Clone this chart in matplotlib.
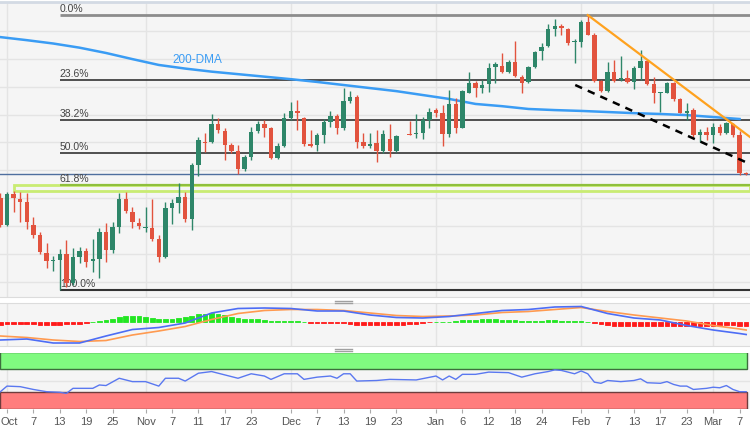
import numpy as np
import pandas as pd
import matplotlib
matplotlib.use("Agg")
import matplotlib.pyplot as plt
from matplotlib.patches import Rectangle
from matplotlib.lines import Line2D
from matplotlib.transforms import ScaledTranslation

plt.rcParams["font.family"] = ["Liberation Sans", "DejaVu Sans"]

# AUD/USD daily candles, 30 Sep 2022 -> 8 Mar 2023
dates = pd.bdate_range("2022-09-30", "2023-03-08")

opens = [0.6500, 0.6404, 0.6515, 0.6497, 0.6486, 0.6404, 0.6368, 0.6303, 0.6274, 0.6278,
         0.6299, 0.6195, 0.6289, 0.6310, 0.6274, 0.6281, 0.6378, 0.6314, 0.6396, 0.6497,
         0.6450, 0.6411, 0.6393, 0.6393, 0.6353, 0.6289, 0.6465, 0.6482, 0.6504, 0.6425,
         0.6619, 0.6701, 0.6701, 0.6766, 0.6741, 0.6691, 0.6669, 0.6605, 0.6648, 0.6741,
         0.6766, 0.6752, 0.6644, 0.6687, 0.6788, 0.6813, 0.6788, 0.6694, 0.6691, 0.6727,
         0.6773, 0.6795, 0.6752, 0.6849, 0.6863, 0.6701, 0.6687, 0.6698, 0.6669, 0.6712,
         0.6669, 0.6712, 0.6730, 0.6730, 0.6734, 0.6780, 0.6816, 0.6805, 0.6730, 0.6838,
         0.6752, 0.6877, 0.6913, 0.6895, 0.6910, 0.6971, 0.6974, 0.6953, 0.6989, 0.6935,
         0.6917, 0.6971, 0.7028, 0.7046, 0.7107, 0.7118, 0.7107, 0.7060, 0.7060, 0.7132,
         0.7085, 0.6920, 0.6884, 0.6953, 0.6924, 0.6931, 0.6917, 0.6967, 0.6992, 0.6910,
         0.6877, 0.6877, 0.6913, 0.6856, 0.6805, 0.6816, 0.6727, 0.6737, 0.6727, 0.6755,
         0.6734, 0.6766, 0.6727, 0.6590]
highs = [0.6518, 0.6522, 0.6526, 0.6522, 0.6518, 0.6432, 0.6378, 0.6339, 0.6292, 0.6317,
         0.6350, 0.6321, 0.6325, 0.6321, 0.6353, 0.6393, 0.6411, 0.6414, 0.6518, 0.6522,
         0.6468, 0.6429, 0.6468, 0.6497, 0.6368, 0.6486, 0.6497, 0.6554, 0.6522, 0.6626,
         0.6719, 0.6734, 0.6802, 0.6788, 0.6752, 0.6698, 0.6691, 0.6655, 0.6755, 0.6777,
         0.6780, 0.6755, 0.6698, 0.6805, 0.6845, 0.6852, 0.6791, 0.6744, 0.6734, 0.6784,
         0.6813, 0.6802, 0.6895, 0.6884, 0.6870, 0.6734, 0.6734, 0.6744, 0.6744, 0.6766,
         0.6727, 0.6712, 0.6777, 0.6802, 0.6791, 0.6823, 0.6823, 0.6834, 0.6888, 0.6859,
         0.6888, 0.6953, 0.6920, 0.6924, 0.6985, 0.6989, 0.7021, 0.6996, 0.7064, 0.6942,
         0.6974, 0.7028, 0.7057, 0.7125, 0.7143, 0.7125, 0.7111, 0.7071, 0.7139, 0.7157,
         0.7093, 0.6924, 0.6989, 0.6996, 0.7010, 0.6960, 0.6974, 0.7032, 0.6996, 0.6935,
         0.6881, 0.6917, 0.6917, 0.6859, 0.6841, 0.6823, 0.6748, 0.6755, 0.6770, 0.6766,
         0.6773, 0.6770, 0.6741, 0.6594]
lows = [0.6396, 0.6400, 0.6450, 0.6414, 0.6389, 0.6357, 0.6299, 0.6249, 0.6238, 0.6170,
        0.6181, 0.6188, 0.6267, 0.6253, 0.6235, 0.6213, 0.6271, 0.6303, 0.6375, 0.6447,
        0.6393, 0.6389, 0.6378, 0.6346, 0.6271, 0.6285, 0.6407, 0.6447, 0.6414, 0.6386,
        0.6579, 0.6665, 0.6698, 0.6734, 0.6637, 0.6662, 0.6587, 0.6597, 0.6637, 0.6734,
        0.6719, 0.6640, 0.6640, 0.6683, 0.6780, 0.6744, 0.6687, 0.6683, 0.6669, 0.6698,
        0.6755, 0.6730, 0.6744, 0.6841, 0.6680, 0.6680, 0.6680, 0.6630, 0.6662, 0.6648,
        0.6665, 0.6712, 0.6727, 0.6716, 0.6712, 0.6752, 0.6791, 0.6687, 0.6719, 0.6734,
        0.6752, 0.6877, 0.6863, 0.6877, 0.6881, 0.6913, 0.6949, 0.6949, 0.6935, 0.6877,
        0.6913, 0.6967, 0.6996, 0.7042, 0.7082, 0.7085, 0.7050, 0.6985, 0.7042, 0.7085,
        0.6917, 0.6881, 0.6881, 0.6917, 0.6920, 0.6913, 0.6892, 0.6924, 0.6906, 0.6841,
        0.6809, 0.6877, 0.6849, 0.6805, 0.6780, 0.6719, 0.6701, 0.6709, 0.6698, 0.6727,
        0.6730, 0.6719, 0.6583, 0.6583]
closes = [0.6404, 0.6515, 0.6500, 0.6486, 0.6414, 0.6368, 0.6307, 0.6274, 0.6278, 0.6299,
          0.6195, 0.6289, 0.6310, 0.6271, 0.6281, 0.6378, 0.6314, 0.6396, 0.6497, 0.6454,
          0.6414, 0.6400, 0.6396, 0.6353, 0.6289, 0.6465, 0.6482, 0.6504, 0.6425, 0.6619,
          0.6709, 0.6698, 0.6766, 0.6744, 0.6691, 0.6669, 0.6605, 0.6648, 0.6737, 0.6766,
          0.6752, 0.6644, 0.6687, 0.6788, 0.6813, 0.6805, 0.6694, 0.6687, 0.6727, 0.6773,
          0.6795, 0.6752, 0.6849, 0.6863, 0.6701, 0.6687, 0.6694, 0.6669, 0.6730, 0.6669,
          0.6723, 0.6712, 0.6727, 0.6734, 0.6780, 0.6809, 0.6805, 0.6730, 0.6838, 0.6752,
          0.6884, 0.6913, 0.6895, 0.6906, 0.6967, 0.6981, 0.6953, 0.6989, 0.6938, 0.6913,
          0.6971, 0.7024, 0.7042, 0.7107, 0.7118, 0.7111, 0.7057, 0.7064, 0.7132, 0.7085,
          0.6920, 0.6884, 0.6953, 0.6920, 0.6931, 0.6917, 0.6967, 0.6992, 0.6910, 0.6877,
          0.6881, 0.6913, 0.6856, 0.6805, 0.6813, 0.6727, 0.6737, 0.6727, 0.6755, 0.6734,
          0.6770, 0.6727, 0.6590, 0.6587]

# 200-DMA, read every 4th candle
dma_pos = list(range(0, 113, 4))
dma_val = [0.7078, 0.7067, 0.7055, 0.7040, 0.7021, 0.6999, 0.6978, 0.6965, 0.6954, 0.6945,
           0.6936, 0.6927, 0.6917, 0.6906, 0.6895, 0.6884, 0.6870, 0.6856, 0.6838, 0.6830,
           0.6820, 0.6816, 0.6813, 0.6809, 0.6805, 0.6802, 0.6798, 0.6791, 0.6784]

# MACD panel, in pips
macd_pos = list(range(0, 113, 4)) + [113]
macd_line = [-36, -34, -42, -42, -28, -15, -11, -2, 18, 27, 28, 27, 22, 22, 14,
             9, 8, 11, 17, 23, 25, 30, 31, 17, 8, 4, -7, -16, -23, -25]
signal_line = [-28, -31, -36, -39, -37, -26, -18, -9, 5, 17, 23, 25, 25, 23, 18,
               13, 11, 12, 14, 19, 21, 25, 29, 21, 14, 8, 2, -7, -14, -16]
macd_hist = [-5.4, -4, -3, -3, -3, -4, -5, -5.4, -5.4, -5,
             -4.6, -4, -3, -1.4, 0.6, 3, 4.6, 7, 10, 12,
             12, 12, 11, 8, 6.6, 6.6, 7, 8, 10, 13,
             16, 17, 18, 17, 14, 10, 7.6, 7, 6.6, 6,
             5, 3, 2, 2, 2, 2, 1, -1, -1.6, -2,
             -2, -2, -2, -3, -5, -5.6, -6, -6, -6, -6,
             -5.6, -5, -4.6, -3, -1.6, -0.6, 0.4, 0.6, 1, 3,
             4, 4.6, 5, 6, 6.6, 6, 5, 4.6, 4, 3,
             2.6, 2.6, 3, 3.4, 3.4, 3, 2.6, 2, 1.6, 1,
             -1, -4, -6.6, -7.6, -8, -8, -8, -8, -7.6, -7.6,
             -8, -8.4, -8.6, -8.6, -8.6, -8.6, -8.6, -8, -7, -6.6,
             -6.6, -6.6, -7, -7]

# RSI readings
rsi_pos = [0, 1, 3, 5, 7, 9, 10, 11, 14, 15,
           16, 18, 20, 22, 24, 25, 27, 28, 30, 32,
           34, 36, 38, 40, 41, 43, 45, 46, 48, 50,
           51, 52, 53, 54, 57, 59, 63, 66, 67, 68,
           69, 70, 72, 74, 77, 79, 81, 83, 84, 85,
           87, 88, 89, 90, 91, 92, 94, 96, 97, 98,
           100, 101, 102, 103, 104, 105, 107, 108, 109, 110,
           111, 112, 113]
rsi_val = [30, 40, 39, 34, 30, 29, 27, 36, 36, 42,
           41, 54, 48, 48, 40, 54, 54, 49, 63, 66,
           60, 54, 62, 58, 52, 62, 62, 52, 56, 58,
           54, 62, 62, 49, 50, 52, 51, 58, 51, 58,
           52, 61, 61, 65, 64, 56, 62, 66, 69, 68,
           62, 67, 62, 47, 45, 50, 48, 50, 53, 46,
           45, 48, 43, 40, 40, 34, 36, 38, 37, 41,
           34, 30, 30]

fib_ratios = [0.0, 0.236, 0.382, 0.5, 0.618, 1.0]
fib_labels = ["0.0%", "23.6%", "38.2%", "50.0%", "61.8%", "100.0%"]

zone_top, zone_bottom, zone_start = 0.6547, 0.6526, 2
last_price = 0.6587
falling_x, falling_y = [89, 113.6], [0.7157, 0.6719]
support_x, support_y = [87.1, 113.6], [0.6906, 0.6622]

tick_dates = ["2022-10-03", "2022-10-07", "2022-10-13", "2022-10-19", "2022-10-25",
              "2022-11-01", "2022-11-07", "2022-11-11", "2022-11-17", "2022-11-23",
              "2022-12-01", "2022-12-07", "2022-12-13", "2022-12-19", "2022-12-23",
              "2023-01-02", "2023-01-06", "2023-01-12", "2023-01-18", "2023-01-24",
              "2023-02-01", "2023-02-07", "2023-02-13", "2023-02-17", "2023-02-23",
              "2023-03-01", "2023-03-07"]
tick_labels = ["Oct", "7", "13", "19", "25", "Nov", "7", "11", "17", "23",
               "Dec", "7", "13", "19", "23", "Jan", "6", "12", "18", "24",
               "Feb", "7", "13", "17", "23", "Mar", "7"]

pos = np.arange(len(dates))
o, h, l, c = map(np.array, (opens, highs, lows, closes))
tick_pos = dates.get_indexer(pd.to_datetime(tick_dates))
month_pos = [p for p, t in zip(tick_pos, tick_labels) if not t.isdigit()]
XL = (-0.06, 113.58)
BG = "#f5f5f5"
GRID = "#e4e4e4"

fig = plt.figure(figsize=(7.5, 4.3), dpi=100)
ax = fig.add_axes([0, 1 - 297 / 430, 1, 295 / 430])
ax_m = fig.add_axes([0, 1 - 346 / 430, 1, 43 / 430])
ax_r = fig.add_axes([0, 1 - 408.5 / 430, 1, 56 / 430])

for a in (ax, ax_m, ax_r):
    a.set_facecolor(BG)
    a.set_xlim(*XL)
    a.set_yticks([])
    for p in month_pos:
        a.axvline(p, color=GRID, lw=1, zorder=0)
    for s in a.spines.values():
        s.set_visible(False)

# ---- main price panel
ax.set_ylim(0.6145, 0.7204)
ax.set_xticks([])
for v in np.arange(0.62, 0.715, 0.01):
    ax.axhline(v, color=GRID, lw=1, zorder=0)
ax.spines["top"].set_visible(True)
ax.spines["top"].set_color("#d3dae4")
ax.spines["top"].set_linewidth(2)
ax.spines["bottom"].set_visible(True)
ax.spines["bottom"].set_color("#dcdcdc")

lo, hi = l.min(), h.max()
fib_start = pos[np.argmin(l)]
fib_colors = ["#8c8c8c", "#333333", "#333333", "#333333", "#8fbf3c", "#333333"]
fib_widths = [2, 1.2, 1.2, 1.2, 1.6, 1.5]
ax.add_patch(Rectangle((zone_start, zone_bottom), XL[1] - zone_start, zone_top - zone_bottom,
                       fill=False, edgecolor="#c9ec72", lw=2, zorder=1))
for r, lab, col, w in zip(fib_ratios, fib_labels, fib_colors, fib_widths):
    lvl = hi - r * (hi - lo)
    ax.hlines(lvl, fib_start, XL[1], color=col, lw=w, zorder=2)
    ax.annotate(lab, (fib_start, lvl), xytext=(0, 0.5), textcoords="offset points",
                fontsize=7.5, color="#444444", va="bottom", ha="left")

ax.axhline(last_price, color="#4f6f9f", lw=1, zorder=2)
ax.plot(dma_pos, dma_val, color="#3a9cf4", lw=1.8, zorder=2)
ax.text(26, 0.6996, "200-DMA", color="#3a9cf4", fontsize=8.5, va="center")

colors = np.where(c > o, "#2e8669", np.where(c < o, "#e2533e", "#333333"))
ax.vlines(pos, l, h, colors=colors, lw=1, zorder=3)
ax.bar(pos, np.maximum(np.abs(c - o), 0.00012), bottom=np.minimum(o, c), width=0.68,
       color=colors, zorder=4)

ax.plot(falling_x, falling_y, color="#ffa21f", lw=1.6, zorder=5)
ax.plot(support_x, support_y, color="black", lw=1.8, ls=(0, (3, 2.5)), zorder=5)

# ---- MACD panel
ax_m.set_ylim(-48, 38)
ax_m.set_xticks([])
hist = np.array(macd_hist)
hcol = np.where(hist >= 0, "#22e622", "#ff1a1a")
ax_m.bar(pos, hist, width=0.7, color=hcol, edgecolor=hcol, lw=0.6, zorder=2)
ax_m.plot(macd_pos, signal_line, color="#ff9a50", lw=1.2, zorder=3)
ax_m.plot(macd_pos, macd_line, color="#4d6df5", lw=1.2, zorder=3)
for s in ("top", "bottom"):
    ax_m.spines[s].set_visible(True)
    ax_m.spines[s].set_color("#dcdcdc")

# ---- RSI panel
ax_r.set_ylim(0, 100)
ax_r.axhline(50, color=GRID, lw=1, zorder=0)
ax_r.add_patch(Rectangle((XL[0], 70), 113.2 - XL[0], 30, facecolor="#80fa80",
                         edgecolor="#3d6e3d", lw=1, zorder=1))
ax_r.add_patch(Rectangle((XL[0], 0), 113.2 - XL[0], 30, facecolor="#ff7d7d",
                         edgecolor="#6e3d3d", lw=1, zorder=1))
ax_r.plot(rsi_pos, rsi_val, color="#5a78f0", lw=1, zorder=3)
ax_r.set_xticks(tick_pos)
ax_r.set_xticklabels(tick_labels)
ax_r.tick_params(axis="x", length=3, color="#aaaaaa", labelcolor="#555555",
                 labelsize=8, pad=3)
# first label sits against the left edge
first = ax_r.get_xticklabels()[0]
first.set_ha("left")
first.set_transform(first.get_transform() + ScaledTranslation(-6 / 100, 0, fig.dpi_scale_trans))

# panel drag handles
for yy in (301, 303, 348.5, 350.5):
    fig.add_artist(Line2D([335 / 750, 352 / 750], [1 - yy / 430] * 2,
                          color="#a0a0a0", lw=1))

fig.savefig("out.png", dpi=100, facecolor="white")
